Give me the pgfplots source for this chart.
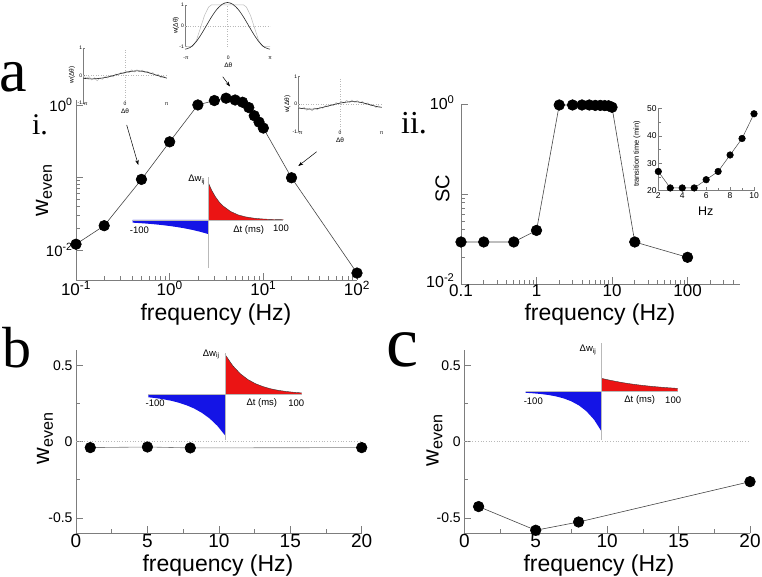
\documentclass[border=0pt]{standalone}
\usepackage{fontspec}
\setmainfont{Liberation Sans}
\newfontfamily\letterfont{Liberation Serif}
\usepackage{pgfplots}
\pgfplotsset{compat=1.18}
\usetikzlibrary{arrows.meta}
\definecolor{axgray}{RGB}{125,125,125}
\definecolor{lgray}{RGB}{185,185,185}
\definecolor{dline}{RGB}{70,70,70}
\definecolor{stdpred}{RGB}{235,20,20}
\definecolor{stdpblue}{RGB}{20,20,230}
\newcommand{\tp}[1]{10\textsuperscript{#1}}
\newcommand{\fs}[1]{\fontsize{#1}{#1}\selectfont}
\pgfplotsset{
  mainax/.style={
    scale only axis, anchor=south west, clip=false,
    axis lines*=left,
    axis line style={axgray, line width=0.9pt},
    tick style={axgray, line width=0.7pt},
    tick align=inside,
    major tick length=7pt, minor tick length=4pt,
    /pgf/number format/assume math mode=true,
  },
  datal/.style={dline, line width=0.6pt, mark=*, mark size=5.3pt, mark options={black, fill=black, solid}},
  stdp/.style={scale only axis, anchor=south west, clip=false, hide axis, xmin=-100, xmax=100},
  orient/.style={scale only axis, anchor=south west, clip=false,
    xmin=-3.1416, xmax=3.1416, ymin=-1, ymax=1,
    axis x line=none, axis y line*=left,
    axis line style={axgray, line width=0.5pt},
    ytick={-1,0,1}, yticklabels={-1,0,1},
    tick style={axgray, line width=0.4pt}, major tick length=2pt, tick align=inside,
    yticklabel style={font=\fs{5}, inner sep=1pt},
  },
}
\begin{document}
\begin{tikzpicture}
\path[use as bounding box] (0pt,0pt) rectangle (762pt,-577pt);

% ---------- panel a.i ----------
\begin{axis}[mainax, at={(76pt,-280pt)}, width=281pt, height=180pt,
  xmode=log, ymode=log, xmin=0.1, xmax=100, ymin=0.00385, ymax=1.17,
  xtick={0.1,1,10,100}, xticklabels={\tp{-1},\tp{0},\tp{1},\tp{2}},
  minor xtick={0.2,0.3,0.4,0.5,0.6,0.7,0.8,0.9,2,3,4,5,6,7,8,9,20,30,40,50,60,70,80,90},
  ytick={0.01,0.1,1}, yticklabels={\tp{-2},,\tp{0}},
  minor ytick={0.02,0.03,0.04,0.05,0.06,0.07,0.08,0.09},
  xticklabel style={font=\fs{17}, inner sep=1pt}, yticklabel style={font=\fs{15}},
]
\addplot[datal] coordinates {(0.1,0.012)(0.2,0.0216)(0.5,0.094)(1,0.31)(2,1.0)(3,1.15)(4,1.24)(5,1.17)(6,1.09)(7,0.92)(8,0.71)(9,0.58)(10,0.48)(20,0.099)(100,0.0048)};
\end{axis}

% STDP inset a.i
\begin{axis}[stdp, at={(132.7pt,-268pt)}, width=150.6pt, height=91.3pt, ymin=-48, ymax=43.3]
\addplot[fill=stdpblue, draw=none] coordinates {(-100,0)(-100,-2.64)(-90,-3.12)(-80,-3.69)(-70,-4.36)(-60,-5.15)(-50,-6.08)(-40,-7.19)(-30,-8.49)(-20,-10.03)(-10,-11.85)(0,-14)(0,0)};
\addplot[fill=stdpred, draw=none] coordinates {(0,0)(0,38)(5,29.6)(10,23.0)(15,17.9)(20,14.0)(30,8.5)(40,5.1)(50,3.1)(60,1.9)(70,1.15)(80,0.7)(90,0.42)(100,0.26)(100,0)};
\addplot[black!80, line width=0.4pt] coordinates {(0,38)(5,29.6)(10,23.0)(15,17.9)(20,14.0)(30,8.5)(40,5.1)(50,3.1)(60,1.9)(70,1.15)(80,0.7)(90,0.42)(100,0.26)};
\draw[lgray, line width=0.6pt] (axis cs:-100,0) -- (axis cs:100,0);
\draw[lgray, line width=0.6pt] (axis cs:0,-48) -- (axis cs:0,43.3);
\node[font=\fs{9.5}] at (axis cs:-91,-10) {-100};
\node[font=\fs{9.5}] at (axis cs:54,-10) {Δt (ms)};
\node[font=\fs{9.5}] at (axis cs:97,-8) {100};
\node[font=\fs{9.5}] at (axis cs:-15,40) {Δw\textsubscript{ij}};
\end{axis}

% orientation inset left
\begin{axis}[orient, at={(83.3pt,-102.8pt)}, width=83.4pt, height=55pt]
\draw[lgray, dotted, line width=0.5pt] (axis cs:0,-1) -- (axis cs:0,1);
\draw[lgray, dotted, line width=0.5pt] (axis cs:-3.1416,0) -- (axis cs:3.1416,0);
\addplot[lgray, line width=0.5pt] coordinates {(-3.1416,-0.04)(-2.9,-0.1)(-2.7,-0.05)(-2.5,-0.17)(-2.3,-0.09)(-2.1,-0.2)(-1.9,-0.1)(-1.7,-0.15)(-1.5,-0.05)(-1.3,-0.1)(-1.1,0.0)(-0.9,-0.06)(-0.7,0.05)(-0.5,0.0)(-0.3,0.1)(-0.1,0.05)(0.1,0.15)(0.3,0.09)(0.5,0.2)(0.7,0.12)(0.9,0.2)(1.1,0.13)(1.3,0.19)(1.5,0.1)(1.7,0.14)(1.9,0.05)(2.1,0.1)(2.3,-0.01)(2.5,0.04)(2.7,-0.08)(2.9,-0.03)(3.1416,-0.12)};
\addplot[black!85, line width=0.6pt, smooth] coordinates {(-3.1416,-0.11)(-2.6,-0.13)(-2.1,-0.12)(-1.6,-0.09)(-1.1,-0.04)(-0.6,0.03)(-0.1,0.09)(0.4,0.14)(0.9,0.16)(1.4,0.14)(1.9,0.08)(2.4,0.0)(2.9,-0.07)(3.1416,-0.10)};
\end{axis}
\node[font=\fs{5}] at (85pt,-104pt) {-π};
\node[font=\fs{5}] at (125pt,-104pt) {0};
\node[font=\fs{5}] at (166.7pt,-104pt) {π};
\node[font=\fs{6.5}] at (125pt,-111.5pt) {Δθ};
\node[font=\fs{6.5}, rotate=90] at (72pt,-75pt) {w(Δθ)};

% orientation inset top
\begin{axis}[orient, at={(185pt,-46.7pt)}, width=85pt, height=41.7pt]
\draw[lgray, dotted, line width=0.5pt] (axis cs:0,-1) -- (axis cs:0,1);
\draw[lgray, dotted, line width=0.5pt] (axis cs:-3.1416,0) -- (axis cs:3.1416,0);
\addplot[lgray, line width=0.5pt] coordinates {(-3.1416,-1)(-2.6,-1)(-2.3,-0.7)(-2.0,-0.1)(-1.7,0.5)(-1.4,0.9)(-1.2,1)(1.2,1)(1.4,0.9)(1.7,0.5)(2.0,-0.1)(2.3,-0.7)(2.6,-1)(3.1416,-1)};
\addplot[black!85, line width=0.6pt, smooth] coordinates {(-3.1416,-1.12)(-2.75,-1.035)(-2.36,-0.797)(-1.96,-0.425)(-1.57,0.0)(-1.18,0.428)(-0.79,0.79)(-0.39,1.035)(0,1.12)(0.39,1.035)(0.79,0.79)(1.18,0.428)(1.57,0.0)(1.96,-0.425)(2.36,-0.797)(2.75,-1.035)(3.1416,-1.12)};
\end{axis}
\node[font=\fs{5}] at (186pt,-58pt) {-π};
\node[font=\fs{5}] at (228.3pt,-58pt) {0};
\node[font=\fs{5}] at (270pt,-58pt) {π};
\node[font=\fs{6.5}] at (228.3pt,-65.5pt) {Δθ};
\node[font=\fs{6.5}, rotate=90] at (176pt,-25.5pt) {w(Δθ)};

% orientation inset right
\begin{axis}[orient, at={(298.3pt,-131.7pt)}, width=83.4pt, height=55pt]
\draw[lgray, dotted, line width=0.5pt] (axis cs:0,-1) -- (axis cs:0,1);
\draw[lgray, dotted, line width=0.5pt] (axis cs:-3.1416,0) -- (axis cs:3.1416,0);
\addplot[lgray, line width=0.5pt] coordinates {(-3.1416,-0.1)(-2.9,-0.16)(-2.7,-0.12)(-2.5,-0.22)(-2.3,-0.15)(-2.1,-0.24)(-1.9,-0.14)(-1.7,-0.2)(-1.5,-0.1)(-1.3,-0.15)(-1.1,-0.05)(-0.9,-0.1)(-0.7,0.0)(-0.5,-0.05)(-0.3,0.06)(-0.1,0.0)(0.1,0.1)(0.3,0.04)(0.5,0.14)(0.7,0.06)(0.9,0.15)(1.1,0.07)(1.3,0.13)(1.5,0.05)(1.7,0.1)(1.9,0.0)(2.1,0.05)(2.3,-0.06)(2.5,-0.01)(2.7,-0.12)(2.9,-0.06)(3.1416,-0.13)};
\addplot[black!85, line width=0.6pt, smooth] coordinates {(-3.1416,-0.14)(-2.6,-0.17)(-2.1,-0.18)(-1.6,-0.15)(-1.1,-0.09)(-0.6,-0.03)(-0.1,0.03)(0.4,0.07)(0.9,0.095)(1.4,0.08)(1.9,0.03)(2.4,-0.04)(2.9,-0.1)(3.1416,-0.11)};
\end{axis}
\node[font=\fs{5}] at (300pt,-133pt) {-π};
\node[font=\fs{5}] at (340pt,-133pt) {0};
\node[font=\fs{5}] at (381.7pt,-133pt) {π};
\node[font=\fs{6.5}] at (340pt,-140.5pt) {Δθ};
\node[font=\fs{6.5}, rotate=90] at (287.5pt,-104.3pt) {w(Δθ)};

% arrows
\draw[-{Stealth[length=5pt,width=3.5pt]}, line width=0.5pt] (126.7pt,-125pt) -- (138.3pt,-165pt);
\draw[-{Stealth[length=5pt,width=3.5pt]}, line width=0.5pt] (222.7pt,-76.7pt) -- (230pt,-86.5pt);
\draw[-{Stealth[length=5pt,width=3.5pt]}, line width=0.5pt] (316.7pt,-151.7pt) -- (298.3pt,-166pt);

% labels a.i
\node[font=\fs{23}, rotate=90] at (44pt,-190pt) {w\textsubscript{even}};
\node[font=\fs{23}, anchor=base] at (216pt,-320pt) {frequency (Hz)};

% ---------- panel a.ii ----------
\begin{axis}[mainax, at={(461pt,-284pt)}, width=279.3pt, height=180pt,
  xmode=log, ymode=log, xmin=0.1, xmax=500, ymin=0.01, ymax=1,
  xtick={0.1,1,10,100}, xticklabels={0.1,1,10,100},
  minor xtick={0.2,0.3,0.4,0.5,0.6,0.7,0.8,0.9,2,3,4,5,6,7,8,9,20,30,40,50,60,70,80,90,200,300,400},
  ytick={0.01,0.1,1}, yticklabels={\raisebox{5pt}{\tp{-2}},,\tp{0}},
  minor ytick={0.02,0.03,0.04,0.05,0.06,0.07,0.08,0.09},
  xticklabel style={font=\fs{17}, inner sep=0.5pt}, yticklabel style={font=\fs{16}, xshift=-3pt, yshift=1pt},
]
\addplot[datal] coordinates {(0.1,0.0293)(0.2,0.0293)(0.5,0.0293)(1,0.0394)(2,0.975)(3,0.975)(4,0.975)(5,0.975)(6,0.965)(7,0.965)(8,0.96)(9,0.955)(10,0.92)(20,0.0293)(100,0.0198)};
\end{axis}
\node[font=\fs{20}, rotate=90] at (442.5pt,-189pt) {SC};
\node[font=\fs{23}, anchor=base] at (600pt,-320pt) {frequency (Hz)};

% inset a.ii
\begin{axis}[mainax, at={(658.3pt,-190.7pt)}, width=95.7pt, height=82.4pt,
  xmin=2, xmax=10, ymin=20, ymax=50,
  xtick={2,4,6,8,10}, xticklabels={2,4,6,8,10}, minor xtick={3,5,7,9},
  ytick={20,30,40,50}, yticklabels={20,30,40,50}, minor ytick={25,35,45},
  axis line style={axgray, line width=0.6pt}, tick style={axgray, line width=0.5pt},
  major tick length=4pt, minor tick length=2.5pt,
  xticklabel style={font=\fs{8.5}, inner sep=1.5pt}, yticklabel style={font=\fs{8.5}, inner sep=1.5pt},
]
\addplot[dline, line width=0.5pt, mark=*, mark size=3.3pt, mark options={black, fill=black}] coordinates {(2,27)(3,21)(4,21)(5,21)(6,24)(7,27)(8,33)(9,39)(10,48)};
\end{axis}
\node[font=\fs{7.5}, rotate=90] at (637pt,-154pt) {transition time (min)};
\node[font=\fs{12.5}] at (705.7pt,-211.7pt) {Hz};

% ---------- panel b ----------
\begin{axis}[mainax, at={(76pt,-533.3pt)}, width=285.7pt, height=183.3pt,
  xmin=0, xmax=20, ymin=-0.6, ymax=0.6,
  xtick={0,5,10,15,20}, xticklabels={0,5,10,15,20}, minor xtick={2.5,7.5,12.5,17.5},
  ytick={-0.5,0,0.5}, yticklabels={-0.5,0,0.5}, minor ytick={-0.25,0.25},
  xticklabel style={font=\fs{19}, inner sep=1pt}, yticklabel style={font=\fs{14}},
]
\addplot[lgray, dotted, line width=0.7pt] coordinates {(0,0)(20,0)};
\addplot[datal, dline!70] coordinates {(1,-0.039)(5,-0.035)(8,-0.041)(20,-0.039)};
\end{axis}
\begin{axis}[stdp, at={(148.3pt,-440pt)}, width=153.4pt, height=86.7pt, ymin=-45.7, ymax=41]
\addplot[fill=stdpblue, draw=none] coordinates {(-100,0)(-100,-2.95)(-90,-3.84)(-80,-5.0)(-70,-6.5)(-60,-8.45)(-50,-11.0)(-40,-14.3)(-30,-18.6)(-20,-24.2)(-10,-31.5)(0,-41)(0,0)};
\addplot[fill=stdpred, draw=none] coordinates {(0,0)(0,40)(10,28.7)(20,20.5)(30,14.7)(40,10.5)(50,7.6)(60,5.4)(70,3.9)(80,2.8)(90,2.0)(100,1.4)(100,0)};
\addplot[black!80, line width=0.4pt] coordinates {(0,40)(10,28.7)(20,20.5)(30,14.7)(40,10.5)(50,7.6)(60,5.4)(70,3.9)(80,2.8)(90,2.0)(100,1.4)};
\draw[lgray, line width=0.6pt] (axis cs:-100,0) -- (axis cs:100,0);
\draw[lgray, line width=0.6pt] (axis cs:0,-45.7) -- (axis cs:0,41);
\node[font=\fs{9.5}] at (axis cs:-91,-8.7) {-100};
\node[font=\fs{9.5}] at (axis cs:48,-8.7) {Δt (ms)};
\node[font=\fs{9.5}] at (axis cs:93,-8.7) {100};
\node[font=\fs{9.5}] at (axis cs:-18,40) {Δw\textsubscript{ij}};
\end{axis}
\node[font=\fs{23}, rotate=90] at (45pt,-438pt) {w\textsubscript{even}};
\node[font=\fs{23}, anchor=base] at (218pt,-571pt) {frequency (Hz)};

% ---------- panel c ----------
\begin{axis}[mainax, at={(464.3pt,-533.3pt)}, width=285.7pt, height=183.3pt,
  xmin=0, xmax=20, ymin=-0.6, ymax=0.6,
  xtick={0,5,10,15,20}, xticklabels={0,5,10,15,20}, minor xtick={2.5,7.5,12.5,17.5},
  ytick={-0.5,0,0.5}, yticklabels={-0.5,0,0.5}, minor ytick={-0.25,0.25},
  xticklabel style={font=\fs{19}, inner sep=1pt}, yticklabel style={font=\fs{14}},
]
\addplot[lgray, dotted, line width=0.7pt] coordinates {(0,0)(20,0)};
\addplot[datal] coordinates {(1,-0.425)(5,-0.58)(8,-0.526)(20,-0.262)};
\end{axis}
\begin{axis}[stdp, at={(525.7pt,-440pt)}, width=152pt, height=96.7pt, ymin=-48.3, ymax=48.4]
\addplot[fill=stdpblue, draw=none] coordinates {(-100,0)(-100,-1.1)(-90,-1.6)(-80,-2.3)(-70,-3.3)(-60,-4.7)(-50,-6.7)(-40,-9.6)(-30,-13.7)(-20,-19.6)(-10,-28.0)(0,-40)(0,0)};
\addplot[fill=stdpred, draw=none] coordinates {(0,0)(0,13.3)(10,11.6)(20,10.1)(30,8.77)(40,7.63)(50,6.64)(60,5.78)(70,5.03)(80,4.38)(90,3.81)(100,3.32)(100,0)};
\addplot[black!80, line width=0.4pt] coordinates {(0,13.3)(10,11.6)(20,10.1)(30,8.77)(40,7.63)(50,6.64)(60,5.78)(70,5.03)(80,4.38)(90,3.81)(100,3.32)};
\draw[lgray, line width=0.6pt] (axis cs:-100,0) -- (axis cs:100,0);
\draw[lgray, line width=0.6pt] (axis cs:0,-48.3) -- (axis cs:0,48.4);
\node[font=\fs{9.5}] at (axis cs:-90,-9.3) {-100};
\node[font=\fs{9.5}] at (axis cs:50,-8.3) {Δt (ms)};
\node[font=\fs{9.5}] at (axis cs:94,-8.3) {100};
\node[font=\fs{9.5}] at (axis cs:-18,42) {Δw\textsubscript{ij}};
\end{axis}
\node[font=\fs{23}, rotate=90] at (434.5pt,-440pt) {w\textsubscript{even}};
\node[font=\fs{23}, anchor=base] at (599pt,-571pt) {frequency (Hz)};

% panel letters
\node[font=\letterfont\fs{62}] at (13.5pt,-77.5pt) {a};
\node[font=\letterfont\fs{30}] at (40pt,-125pt) {i.};
\node[font=\letterfont\fs{32}] at (414pt,-123pt) {ii.};
\node[font=\letterfont\fs{58}] at (17pt,-348pt) {b};
\node[font=\letterfont\fs{72}] at (402.5pt,-350pt) {c};
\end{tikzpicture}
\end{document}
